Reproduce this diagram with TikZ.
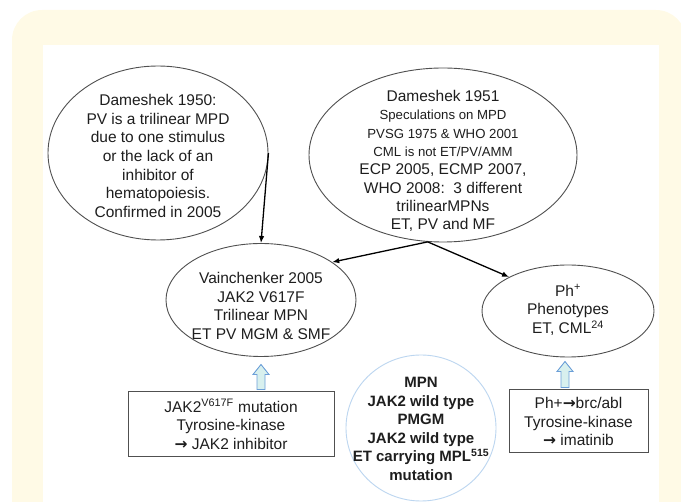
\documentclass[tikz,border=0pt]{standalone}
\usepackage{fontspec}
\setmainfont{Liberation Sans}
\newfontfamily\arrf{DejaVu Sans}
\usetikzlibrary{shapes.geometric,arrows.meta,calc}
\definecolor{cream}{HTML}{FFFAE6}
\definecolor{ellgray}{HTML}{505050}
\definecolor{txtgray}{HTML}{1E1E1E}
\definecolor{arrblue}{HTML}{6C9FD8}
\definecolor{arrfill}{HTML}{D8F0EE}
\definecolor{circblue}{HTML}{BCD6F0}
\newcommand\mf{\fontsize{15.5}{18.6}\selectfont}
\newcommand\smf{\fontsize{13.2}{18.3}\selectfont}
\newcommand\rar{{\arrf\bfseries →}}
\tikzset{
  ell/.style={ellipse, draw=ellgray, line width=0.9pt, inner sep=0pt},
  txt/.style={align=center, inner sep=0pt, text=txtgray, font=\mf},
  boxn/.style={draw=ellgray, line width=1pt, inner sep=0pt},
  conn/.style={draw=black, line width=1.3pt, -{Latex[length=7pt,width=5.5pt]}},
  hollow/.style={draw=arrblue, fill=arrfill, line width=0.9pt, line join=miter}
}
\begin{document}
\begin{tikzpicture}[x=1pt,y=-1pt]
\useasboundingbox (0,0) rectangle (681,502);
\begin{scope}
\clip (0,0) rectangle (681,502);
\fill[cream, rounded corners=30pt] (12,10) rectangle (686,540);
\fill[white] (43,45) rectangle (659,510);
\end{scope}

% top ellipses
\node[ell, minimum width=220pt, minimum height=174pt] (e1) at (158,153) {};
\node[txt] (t1) at (158,156) {Dameshek 1950:\\PV is a trilinear MPD\\due to one stimulus\\or the lack of an\\inhibitor of\\hematopoiesis.\\Confirmed in 2005};

\node[ell, minimum width=268pt, minimum height=174pt] (e2) at (443,155) {};
\node[txt, font=\fontsize{15.5}{18.3}\selectfont] (t2) at (443,161) {Dameshek 1951\\{\smf Speculations on MPD}\\{\smf PVSG 1975 \& WHO 2001}\\{\smf CML is not ET/PV/AMM}\\ECP 2005, ECMP 2007,\\WHO 2008:\ \ 3 different\\trilinearMPNs\\ET, PV and MF};

% middle ellipses
\node[ell, minimum width=190pt, minimum height=113pt] (v) at (261,300) {};
\node[txt] (tv) at (261,306) {Vainchenker 2005\\JAK2 V617F\\Trilinear MPN\\ET PV MGM \& SMF};

\node[ell, minimum width=172pt, minimum height=92pt] (ph) at (568,311) {};
\node[txt] (tph) at (568,310) {Ph\textsuperscript{+}\\Phenotypes\\ET, CML\textsuperscript{24}};

% connectors
\draw[conn] (e1.east) -- (v.north);
\coordinate (split) at (e2.-100);
\draw[conn] (split) -- (v.28);
\draw[conn] (split) -- (ph.150);

% boxes
\node[boxn, minimum width=206pt, minimum height=65pt] (b1) at (231,424.5) {};
\node[txt] (tb1) at (231,424.5) {JAK2\textsuperscript{V617F} mutation\\Tyrosine-kinase\\\rar\ JAK2 inhibitor};

\node[boxn, minimum width=139pt, minimum height=63pt] (b2) at (578.5,421.5) {};
\node[txt] (tb2) at (578.5,421.5) {Ph+\rar brc/abl\\Tyrosine-kinase\\\rar\ imatinib};

% centre circle
\node[ellipse, draw=circblue, line width=0.9pt, inner sep=0pt, minimum width=150pt, minimum height=146pt] (c) at (421,428) {};
\node[txt, font=\bfseries\fontsize{15}{18.6}\selectfont] (tc) at (421,429) {MPN\\JAK2 wild type\\PMGM\\JAK2 wild type\\ET carrying MPL\textsuperscript{515}\\mutation};

% hollow arrows
\coordinate (ha1) at ($(v.south |- b1.north)+(0,-2)$);
\draw[hollow] (ha1) ++(-4,0) -- ++(0,-15) -- ++(-4,0) -- ++(8,-10) -- ++(8,10) -- ++(-4,0) -- ++(0,15) -- cycle;
\coordinate (ha2) at ($(ph.south |- b2.north)+(-3,-2)$);
\draw[hollow] (ha2) ++(-4,0) -- ++(0,-16) -- ++(-4,0) -- ++(8,-10) -- ++(8,10) -- ++(-4,0) -- ++(0,16) -- cycle;
\end{tikzpicture}
\end{document}
